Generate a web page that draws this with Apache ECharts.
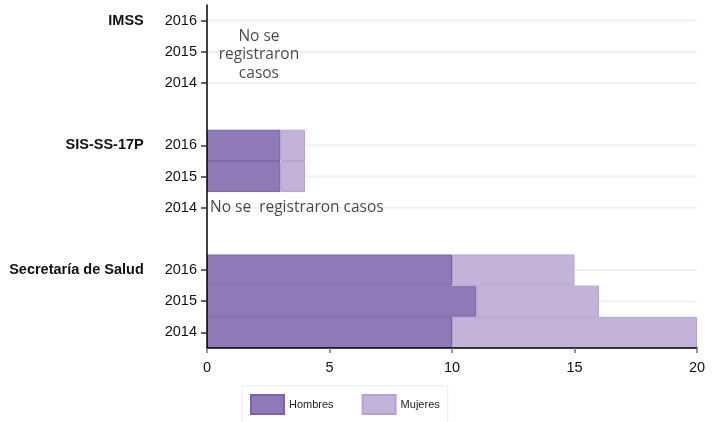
<!DOCTYPE html>
<html>
<head>
<meta charset="utf-8">
<script src="https://cdn.jsdelivr.net/npm/echarts@6/dist/echarts.min.js"></script>
<style>
  html, body { margin: 0; padding: 0; background: #fff; }
  #chart { width: 719px; height: 422px; }
</style>
</head>
<body>
<div id="chart"></div>
<script>
// categorias: "institucion|anio", las vacias separan grupos
var categorias = [
  'IMSS|2016', 'IMSS|2015', 'IMSS|2014', 'gap1',
  'SIS-SS-17P|2016', 'SIS-SS-17P|2015', 'SIS-SS-17P|2014', 'gap2',
  'Secretaría de Salud|2016', 'Secretaría de Salud|2015', 'Secretaría de Salud|2014'
]
var hombres = [null, null, null, null, 3, 3, null, null, 10, 11, 10]
var mujeres = [null, null, null, null, 1, 1, null, null, 5, 5, 10]
var xTicks = [0, 5, 10, 15, 20]
// textos sin casos: [valor x, categoria, texto]
var sinCasos = [
  [2.12, 'IMSS|2015', 'No se\nregistraron\ncasos'],
  [0, 'SIS-SS-17P|2014', 'No se  registraron casos']
]

var chart = echarts.init(document.getElementById('chart'))
var isGap = function (v) { return String(v).indexOf('gap') === 0 }
var xMin = xTicks[0]
var xMax = xTicks[xTicks.length - 1]

// lineas guia horizontales en cada fila con anio
var guias = categorias.filter(function (c) { return !isGap(c) }).map(function (c) { return [xMin, c, xMax] })

var option = {
  animation: false,
  grid: { left: 207, right: 22, top: 5, bottom: 74, containLabel: false },
  legend: {
    data: ['Hombres', 'Mujeres'],
    icon: 'rect',
    left: 242,
    top: 386,
    padding: 8,
    itemWidth: 33,
    itemHeight: 19,
    itemGap: 28,
    borderColor: '#e6eded',
    borderWidth: 1,
    textStyle: { fontFamily: 'Liberation Sans', fontSize: 11, color: '#222' }
  },
  xAxis: {
    type: 'value',
    min: xMin,
    max: xMax,
    interval: 5,
    z: 10,
    splitLine: { show: false },
    axisLine: { show: true, lineStyle: { color: '#000', width: 1.5 } },
    axisTick: { show: true, length: 5, lineStyle: { color: '#777', width: 1.5 } },
    axisLabel: { margin: 12, color: '#111', fontSize: 14.5, fontFamily: 'Liberation Sans' }
  },
  yAxis: {
    type: 'category',
    inverse: true,
    data: categorias,
    z: 10,
    axisLine: { show: true, lineStyle: { color: '#000', width: 1.5 } },
    axisTick: {
      show: true,
      length: 6,
      alignWithLabel: true,
      interval: function (i) { return !isGap(categorias[i]) },
      lineStyle: { color: '#333', width: 1.5 }
    },
    splitLine: { show: false },
    axisLabel: {
      interval: 0,
      margin: 10,
      fontFamily: 'Liberation Sans',
      fontSize: 14.5,
      color: '#111',
      formatter: function (v) {
        if (isGap(v)) return ''
        var p = v.split('|')
        if (p[1] === '2016') return '{g|' + p[0] + '}{y|' + p[1] + '}'
        return '{y|' + p[1] + '}'
      },
      rich: {
        g: { fontWeight: 'bold', fontSize: 14.5, fontFamily: 'Liberation Sans', color: '#111', padding: [0, 21, 0, 0] },
        y: { fontSize: 14.5, fontFamily: 'Liberation Sans', color: '#111' }
      }
    }
  },
  series: [
    {
      name: 'guias',
      type: 'custom',
      z: 1,
      silent: true,
      encode: { x: [0, 2], y: 1 },
      renderItem: function (params, api) {
        var p1 = api.coord([api.value(0), api.value(1)])
        var p2 = api.coord([api.value(2), api.value(1)])
        return {
          type: 'line',
          shape: { x1: p1[0], y1: p1[1], x2: p2[0], y2: p2[1] },
          style: { stroke: '#edf2f2', lineWidth: 2 }
        }
      },
      data: guias
    },
    {
      name: 'Hombres',
      type: 'bar',
      stack: 'total',
      z: 2,
      barCategoryGap: '0%',
      itemStyle: { color: '#8f79b6', borderColor: '#7b63a9', borderWidth: 1 },
      data: hombres
    },
    {
      name: 'Mujeres',
      type: 'bar',
      stack: 'total',
      z: 2,
      barCategoryGap: '0%',
      itemStyle: { color: '#c3b3d8', borderColor: '#b4a2d0', borderWidth: 1 },
      data: mujeres
    },
    {
      name: 'notas',
      type: 'scatter',
      symbolSize: 0,
      silent: true,
      z: 3,
      data: sinCasos.map(function (d, i) {
        return {
          value: [d[0], d[1]],
          label: {
            show: true,
            position: i === 0 ? 'inside' : 'right',
            distance: 3,
            offset: i === 0 ? [0, 3] : [0, 0],
            formatter: d[2],
            align: i === 0 ? 'center' : 'left',
            fontFamily: 'Open Sans',
            fontSize: 15.5,
            lineHeight: 18.5,
            color: '#1a1a1a'
          }
        }
      })
    }
  ]
}

chart.setOption(option)
</script>
</body>
</html>
